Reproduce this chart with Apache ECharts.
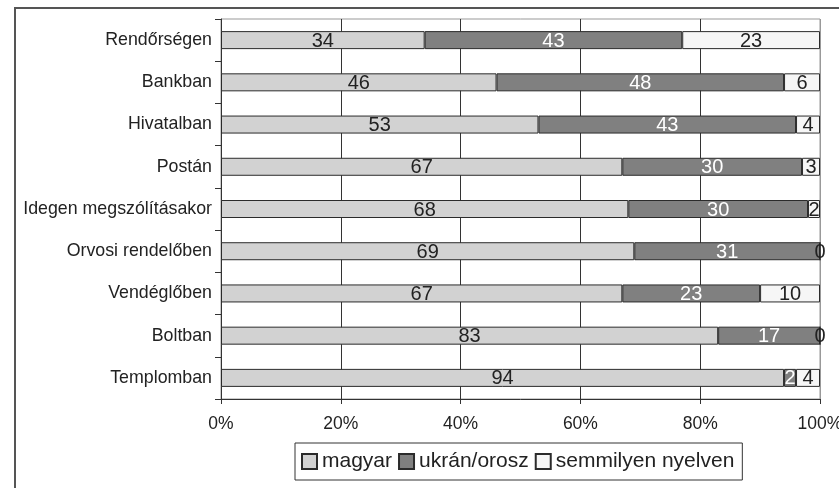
<!DOCTYPE html>
<html>
<head>
<meta charset="utf-8">
<script src="https://cdn.jsdelivr.net/npm/echarts@6/dist/echarts.min.js"></script>
<style>html,body{margin:0;padding:0;background:#fff}#c{width:839px;height:488px}</style>
</head>
<body>
<div id="c"></div>
<script>
const categories = ['Rendőrségen','Bankban','Hivatalban','Postán','Idegen megszólításakor','Orvosi rendelőben','Vendéglőben','Boltban','Templomban'];
const magyar = [34,46,53,67,68,69,67,83,94];
const ukranOrosz = [43,48,43,30,30,31,23,17,2];
const semmilyen = [23,6,4,3,2,0,10,0,4];
const xTicks = [0,20,40,60,80,100];
const seriesNames = ['magyar','ukrán/orosz','semmilyen nyelven'];

const FONT = 'Liberation Sans, Arial, sans-serif';
const chart = echarts.init(document.getElementById('c'), null, {renderer:'canvas'});
function mk(name, data, fill, labelColor) {
  return {
    name: name, type: 'bar', stack: 'tot', data: data, barWidth: 18,
    itemStyle: {color: fill, borderColor: '#2b2b2b', borderWidth: 1},
    label: {show: true, position: 'inside', color: labelColor, fontSize: 20, fontFamily: FONT, offset:[0,1]},
    emphasis: {disabled: true}, animation: false
  };
}
chart.setOption({
  animation: false,
  graphic: [{type:'rect', shape:{x:15,y:8,width:900,height:600}, style:{fill:'none', stroke:'#555', lineWidth:2}, silent:true}],
  grid: {left: 221, right: 19, top: 19, bottom: 89, outerBoundsMode: 'none', containLabel: false, show: true, borderColor: '#999', borderWidth: 1, backgroundColor: 'transparent'},
  xAxis: {
    type: 'value', min: 0, max: 100, interval: 20,
    axisLabel: {formatter: '{value}%', color: '#222', fontSize: 17.5, fontFamily: FONT, margin: 16},
    axisLine: {show: true, lineStyle: {color: '#333', width: 1}},
    axisTick: {show: true, length: 5, lineStyle: {color: '#333'}},
    splitLine: {show: true, lineStyle: {color: ['#999','#333','#333','#333','#333','#999'], width: 1}}
  },
  yAxis: {
    type: 'category', data: categories, inverse: true,
    axisLabel: {color: '#222', fontSize: 17.8, fontFamily: FONT, margin: 9},
    axisLine: {show: true, lineStyle: {color: '#333', width: 1}},
    axisTick: {show: true, length: 6, lineStyle: {color: '#333'}},
    splitLine: {show: false}
  },
  legend: {
    data: seriesNames, left: 295, top: 443, orient: 'horizontal',
    icon: 'rect', itemWidth: 15, itemHeight: 15, itemGap: 6,
    padding: [8, 8, 8, 6], borderColor: '#333', borderWidth: 1,
    textStyle: {fontSize: 21, color: '#222', fontFamily: FONT},
    selectedMode: false
  },
  series: [
    mk(seriesNames[0], magyar, '#d2d2d2', '#222'),
    mk(seriesNames[1], ukranOrosz, '#808080', '#fff'),
    mk(seriesNames[2], semmilyen, '#f6f6f6', '#222')
  ]
});
</script>
</body>
</html>
